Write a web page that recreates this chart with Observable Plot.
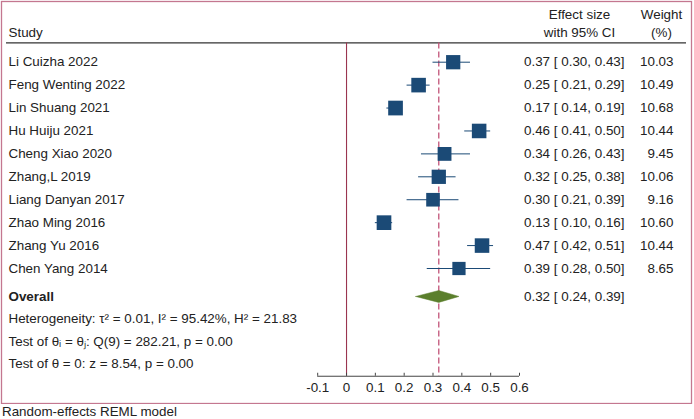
<!DOCTYPE html>
<html>
<head>
<meta charset="utf-8">
<script src="https://cdn.jsdelivr.net/npm/d3@7"></script>
<script src="https://cdn.jsdelivr.net/npm/@observablehq/plot@0.6"></script>
<style>
  html, body { margin: 0; padding: 0; background: #fff; }
  #chart svg { display: block; }
  #caption { font-family: "Liberation Sans", Arial, sans-serif; font-size: 13.4px; color: #222; margin: 0 0 0 2px; line-height: 15px; }
</style>
</head>
<body>
<div id="chart"></div>
<div id="caption">Random-effects REML model</div>
<script>
// ---- data ----
const studies = ["Li Cuizha 2022", "Feng Wenting 2022", "Lin Shuang 2021", "Hu Huiju 2021", "Cheng Xiao 2020",
  "Zhang,L 2019", "Liang Danyan 2017", "Zhao Ming 2016", "Zhang Yu 2016", "Chen Yang 2014"];
const effect = [0.37, 0.25, 0.17, 0.46, 0.34, 0.32, 0.30, 0.13, 0.47, 0.39];
const lower  = [0.30, 0.21, 0.14, 0.41, 0.26, 0.25, 0.21, 0.10, 0.42, 0.28];
const upper  = [0.43, 0.29, 0.19, 0.50, 0.43, 0.38, 0.39, 0.16, 0.51, 0.50];
const weights = [10.03, 10.49, 10.68, 10.44, 9.45, 10.06, 9.16, 10.60, 10.44, 8.65];
const overallLabel = "Overall";
const overallEffect = 0.32, overallLower = 0.24, overallUpper = 0.39;
const statLines = [
  "Heterogeneity: τ² = 0.01, I² = 95.42%, H² = 21.83",
  "Test of θᵢ = θⱼ: Q(9) = 282.21, p = 0.00",
  "Test of θ = 0: z = 8.54, p = 0.00"
];
const tickValues = [-0.1, 0, 0.1, 0.2, 0.3, 0.4, 0.5, 0.6];
const tickLabels = ["-0.1", "0", "0.1", "0.2", "0.3", "0.4", "0.5", "0.6"];
const headerStudy = "Study";
const headerEffect = ["Effect size", "with 95% CI"];
const headerWeight = ["Weight", "(%)"];

// ---- layout (row units) ----
const n = studies.length;
const overallRow = n + 0.22;
const statRow = i => n + 1.2 + i * 0.98;
const headTop = -2.08, headBottom = -1.3, headLine = -0.84;
const axisRow = 13.70, tickLabelRow = 14.2;
const tickLen = 0.13;

const f2 = d3.format(".2f");
const rows = studies.map((s, i) => ({
  study: s, es: effect[i], lo: lower[i], hi: upper[i], w: weights[i], row: i,
  label: `${f2(effect[i])} [ ${f2(lower[i])}, ${f2(upper[i])}]`, wlabel: f2(weights[i])
}));
const ov = {study: overallLabel, es: overallEffect, lo: overallLower, hi: overallUpper, row: overallRow,
  label: `${f2(overallEffect)} [ ${f2(overallLower)}, ${f2(overallUpper)}]`};
const dh = 0.26;
const diamond = [
  {x: ov.lo, y: ov.row}, {x: ov.es, y: ov.row - dh}, {x: ov.hi, y: ov.row}, {x: ov.es, y: ov.row + dh}, {x: ov.lo, y: ov.row}
];
const stats = statLines.map((t, i) => ({text: t, row: statRow(i)}));
const ticks = tickValues.map((v, i) => ({v, label: tickLabels[i]}));

const BLUE = "#1b4a76", GREEN = "#5b7f2c", DASH = "#c25479", ZERO = "#9a3550", BORDER = "#c47790", INK = "#222";
const FONT = "Liberation Sans, Arial, sans-serif";
const fs = 13.4;

const chart = Plot.plot({
  width: 694, height: 404,
  marginLeft: 1, marginRight: 3, marginTop: 1, marginBottom: 1,
  style: {fontFamily: FONT, fontSize: "13.4px", color: INK, background: "#fff"},
  x: {domain: [-0.1, 0.6], range: [317.2, 519], axis: null},
  y: {type: "linear", domain: [0, 9], range: [61.7, 268], axis: null},
  r: {type: "sqrt", domain: [0, 10.68], range: [0, 8.3]},
  marks: [
    Plot.frame({stroke: BORDER, strokeWidth: 1.3}),
    // header
    Plot.text([headerStudy], {frameAnchor: "left", dx: 7, y: headBottom, text: d => d, textAnchor: "start", fontSize: fs, fill: INK}),
    Plot.text(headerEffect, {frameAnchor: "right", dx: -112, y: (d, i) => i === 0 ? headTop : headBottom, text: d => d, textAnchor: "middle", fontSize: fs, fill: INK}),
    Plot.text(headerWeight, {frameAnchor: "right", dx: -30, y: (d, i) => i === 0 ? headTop : headBottom, text: d => d, textAnchor: "middle", fontSize: fs, fill: INK}),
    Plot.ruleY([headLine], {stroke: "#333", strokeWidth: 1.2, insetLeft: 5, insetRight: 5}),
    // reference lines
    Plot.ruleX([0], {y1: headLine, y2: axisRow, stroke: ZERO, strokeWidth: 1.1}),
    Plot.ruleX([overallEffect], {y1: headLine, y2: axisRow, stroke: DASH, strokeWidth: 1.3, strokeDasharray: "6,3"}),
    // CIs and squares
    Plot.ruleY(rows, {x1: "lo", x2: "hi", y: "row", stroke: BLUE, strokeWidth: 1}),
    Plot.dot(rows, {x: "es", y: "row", r: "w", symbol: "square", fill: BLUE, stroke: null}),
    // overall diamond
    Plot.line(diamond, {x: "x", y: "y", fill: GREEN, stroke: GREEN, strokeWidth: 0.5}),
    // study labels
    Plot.text(rows, {frameAnchor: "left", dx: 7, y: "row", text: "study", textAnchor: "start", fontSize: fs, fill: INK}),
    Plot.text(rows, {frameAnchor: "right", dx: -67, y: "row", text: "label", textAnchor: "end", fontSize: fs, fill: INK}),
    Plot.text(rows, {frameAnchor: "right", dx: -18, y: "row", text: "wlabel", textAnchor: "end", fontSize: fs, fill: INK}),
    Plot.text([ov], {frameAnchor: "left", dx: 7, y: "row", text: "study", textAnchor: "start", fontSize: fs, fontWeight: "bold", fill: INK}),
    Plot.text([ov], {frameAnchor: "right", dx: -67, y: "row", text: "label", textAnchor: "end", fontSize: fs, fill: INK}),
    Plot.text(stats, {frameAnchor: "left", dx: 7, y: "row", text: "text", textAnchor: "start", fontSize: fs, fill: INK}),
    // x axis
    Plot.ruleY([axisRow], {x1: tickValues[0], x2: tickValues[tickValues.length - 1], stroke: "#444", strokeWidth: 1}),
    Plot.ruleX(ticks, {x: "v", y1: axisRow - tickLen, y2: axisRow, stroke: "#444", strokeWidth: 1}),
    Plot.text(ticks, {x: "v", y: tickLabelRow, text: "label", textAnchor: "middle", fontSize: fs, fill: INK})
  ]
});
document.getElementById("chart").appendChild(chart);
</script>
</body>
</html>
